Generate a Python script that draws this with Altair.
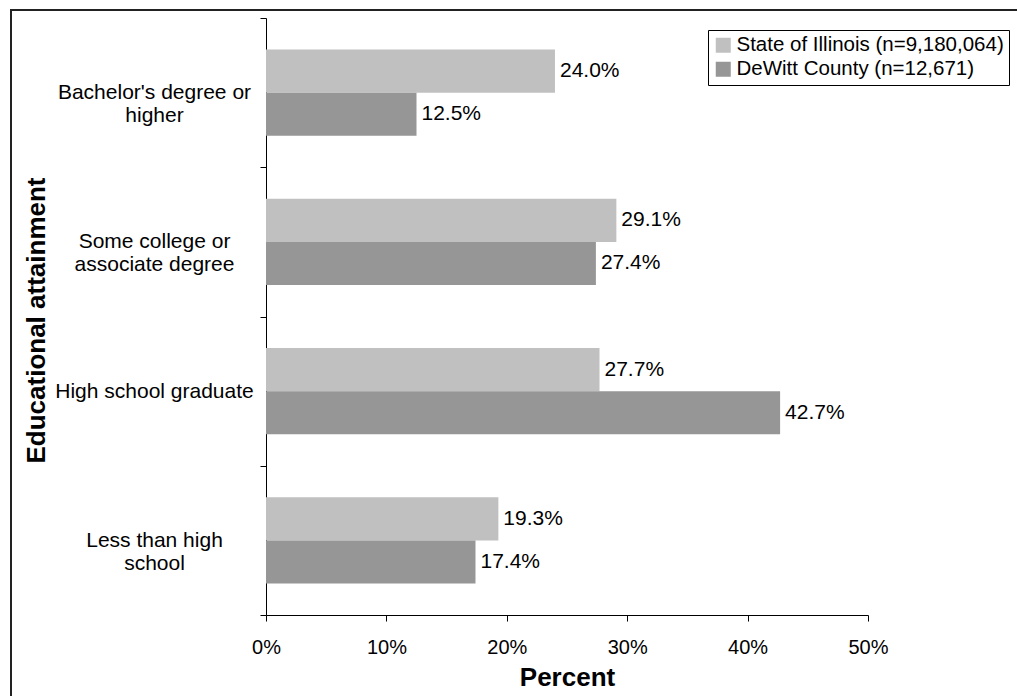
import altair as alt
import pandas as pd

# Educational attainment categories (top to bottom) and the two populations
categories = [
    "Bachelor's degree or\nhigher",
    "Some college or\nassociate degree",
    "High school graduate",
    "Less than high\nschool",
]
series = ["State of Illinois (n=9,180,064)", "DeWitt County (n=12,671)"]
illinois_pct = [24.0, 29.1, 27.7, 19.3]
dewitt_pct = [12.5, 27.4, 42.7, 17.4]
x_ticks = [0, 10, 20, 30, 40, 50]

colors = ["#C0C0C0", "#969696"]

rows = []
for cat, il, dw in zip(categories, illinois_pct, dewitt_pct):
    rows.append({"category": cat, "series": series[0], "pct": il})
    rows.append({"category": cat, "series": series[1], "pct": dw})
df = pd.DataFrame(rows)
df["label"] = df["pct"].map(lambda v: f"{v:.1f}%")

W, H = 602, 597
FONT = "Liberation Sans"

y_enc = alt.Y(
    "category:N",
    sort=categories,
    scale=alt.Scale(paddingInner=0, paddingOuter=0),
    axis=alt.Axis(
        title="Educational attainment",
        titleFontSize=26,
        titleFontWeight="bold",
        titleFont=FONT,
        titleColor="black",
        titleAngle=-90,
        titleX=-230,
        titleY=302,
        titleBaseline="middle",
        titleAlign="center",
        labelFont=FONT,
        labelFontSize=21,
        labelColor="black",
        labelAlign="center",
        labelBaseline="middle",
        labelPadding=106,
        labelLineHeight=23,
        labelExpr="split(datum.label, '\\n')",
        tickBand="extent",
        tickSize=6,
        tickColor="black",
        domainColor="black",
        labelLimit=400,
    ),
)

yoff_enc = alt.YOffset(
    "series:N",
    sort=series,
    scale=alt.Scale(paddingInner=0, paddingOuter=0.733),
)

x_enc = alt.X(
    "pct:Q",
    scale=alt.Scale(domain=[0, 50], nice=False),
    axis=alt.Axis(
        values=x_ticks,
        labelExpr="datum.value + '%'",
        labelFlush=False,
        title="Percent",
        titleFontSize=26,
        titleFontWeight="bold",
        titleFont=FONT,
        titleColor="black",
        titlePadding=7,
        labelFont=FONT,
        labelFontSize=20,
        labelColor="black",
        labelPadding=16,
        tickSize=6,
        tickColor="black",
        domainColor="black",
        grid=False,
    ),
)

bars = alt.Chart(df).mark_bar(stroke=None).encode(
    x=x_enc,
    y=y_enc,
    yOffset=yoff_enc,
    color=alt.Color(
        "series:N",
        sort=series,
        scale=alt.Scale(domain=series, range=colors),
        legend=alt.Legend(
            title=None,
            orient="none",
            legendX=442,
            legendY=12,
            symbolType="square",
            symbolSize=225,
            symbolStrokeWidth=0,
            labelFont=FONT,
            labelFontSize=20.5,
            labelColor="black",
            labelLimit=400,
            rowPadding=3,
            padding=5,
            strokeColor="black",
            fillColor="white",
            labelOffset=3,
        ),
    ),
)

labels = alt.Chart(df).mark_text(
    align="left", baseline="middle", dx=5, fontSize=21, font=FONT, color="black"
).encode(
    x="pct:Q",
    y=alt.Y("category:N", sort=categories),
    yOffset=alt.YOffset("series:N", sort=series),
    text="label:N",
)

# Outer chart frame
frame = alt.Chart(pd.DataFrame({"f": [0]})).mark_rect(
    fill=None, stroke="#222", strokeWidth=2
).encode(
    x=alt.value(-255),
    x2=alt.value(W + 200),
    y=alt.value(-8),
    y2=alt.value(H + 200),
)

chart = (
    alt.layer(frame, bars, labels)
    .properties(
        width=W,
        height=H,
        autosize=alt.AutoSizeParams(type="none"),
        padding={"left": 266, "top": 18, "right": 149, "bottom": 81},
        background="white",
    )
    .configure_view(stroke=None)
)

chart.save("out.html", embed_options={"renderer": "svg", "actions": False})
